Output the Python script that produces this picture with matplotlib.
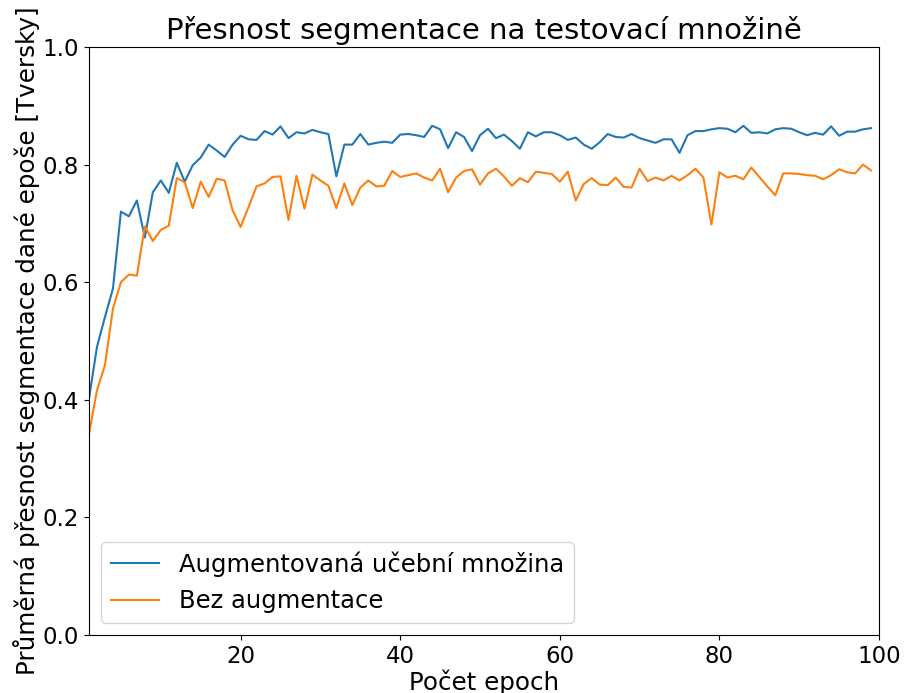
import matplotlib
matplotlib.use("Agg")
import matplotlib.pyplot as plt
import numpy as np

# epochs 1..99
epochs = np.arange(1, 100)

# accuracy per epoch, augmented training set
aug = [0.402, 0.490, 0.541, 0.589, 0.720, 0.712, 0.739, 0.676, 0.753, 0.773,
       0.752, 0.803, 0.771, 0.799, 0.812, 0.834, 0.824, 0.813, 0.834, 0.849,
       0.843, 0.842, 0.857, 0.851, 0.865, 0.845, 0.855, 0.853, 0.859, 0.855,
       0.852, 0.780, 0.834, 0.834, 0.852, 0.834, 0.837, 0.839, 0.837, 0.851,
       0.852, 0.850, 0.847, 0.866, 0.860, 0.828, 0.855, 0.847, 0.823, 0.850,
       0.861, 0.845, 0.851, 0.840, 0.827, 0.855, 0.848, 0.855, 0.855, 0.850,
       0.842, 0.846, 0.834, 0.827, 0.838, 0.852, 0.847, 0.846, 0.852, 0.845,
       0.841, 0.837, 0.843, 0.843, 0.820, 0.850, 0.857, 0.857, 0.860, 0.862,
       0.861, 0.855, 0.866, 0.854, 0.855, 0.853, 0.860, 0.862, 0.861, 0.855,
       0.850, 0.854, 0.851, 0.865, 0.849, 0.856, 0.856, 0.860, 0.862]

# accuracy per epoch, no augmentation
no_aug = [0.342, 0.416, 0.459, 0.555, 0.600, 0.613, 0.611, 0.695, 0.670, 0.689,
          0.696, 0.777, 0.770, 0.726, 0.771, 0.745, 0.776, 0.773, 0.722, 0.694,
          0.728, 0.763, 0.768, 0.779, 0.780, 0.706, 0.781, 0.725, 0.783, 0.773,
          0.764, 0.726, 0.768, 0.731, 0.761, 0.773, 0.763, 0.764, 0.789, 0.779,
          0.782, 0.785, 0.778, 0.773, 0.793, 0.753, 0.778, 0.789, 0.792, 0.766,
          0.785, 0.793, 0.780, 0.764, 0.777, 0.770, 0.788, 0.786, 0.784, 0.771,
          0.788, 0.739, 0.767, 0.777, 0.766, 0.765, 0.778, 0.762, 0.761, 0.793,
          0.772, 0.778, 0.773, 0.781, 0.773, 0.782, 0.793, 0.778, 0.698, 0.787,
          0.778, 0.781, 0.775, 0.795, 0.779, 0.763, 0.748, 0.785, 0.785, 0.784,
          0.782, 0.781, 0.775, 0.782, 0.792, 0.787, 0.785, 0.800, 0.790]

fig = plt.figure(figsize=(9.05, 6.93), dpi=100)
ax = fig.add_axes([89 / 905, 1 - 635 / 693, 790 / 905, 588 / 693])

ax.plot(epochs, aug, label="Augmentovaná učební množina")
ax.plot(epochs, no_aug, label="Bez augmentace")

ax.set_xlim(1, 100)
ax.set_ylim(0, 1)
ax.set_title("Přesnost segmentace na testovací množině", fontsize=21)
ax.set_xlabel("Počet epoch", fontsize=17.7, labelpad=1)
ax.set_ylabel("Průměrná přesnost segmentace dané epoše [Tversky]", fontsize=17.7,
              labelpad=2)
ax.tick_params(labelsize=16.5)
ax.legend(loc="lower left", fontsize=17.5)

fig.savefig("out.png", dpi=100)
